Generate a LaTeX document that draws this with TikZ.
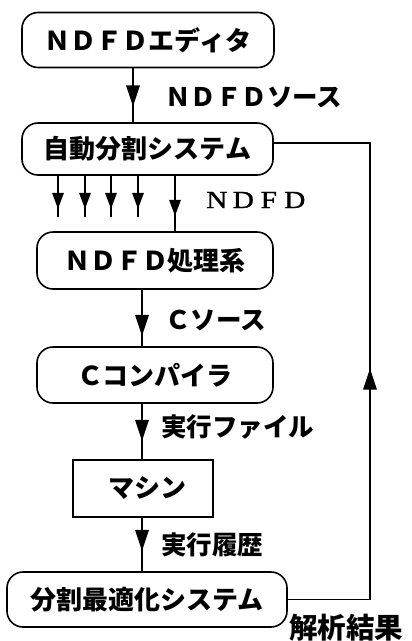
\documentclass[tikz,border=0pt]{standalone}
\usepackage{fontspec}
\newfontfamily\jp{Noto Sans CJK JP}
\newfontfamily\seriflat[FakeStretch=1.2,FakeBold=1.2]{Liberation Serif}
\usetikzlibrary{decorations.markings}
\tikzset{
  box/.style={draw, line width=1.6pt, rounded corners=16pt, inner sep=0pt,
    font=\jp\bfseries\fontsize{26}{30}\selectfont},
  sqbox/.style={draw, line width=1.6pt, inner sep=0pt,
    font=\jp\bfseries\fontsize{26}{30}\selectfont},
  lab/.style={inner sep=0pt, anchor=west, font=\jp\bfseries\fontsize{25.5}{30}\selectfont},
  conn/.style={line width=1.3pt},
  midarrow/.style={postaction={decorate}, decoration={markings,
    mark=at position #1 with {\fill (0pt,0pt) -- (-21pt,7pt) -- (-21pt,-7pt) -- cycle;}}},
  smallarrow/.style={postaction={decorate}, decoration={markings,
    mark=at position #1 with {\fill (0pt,0pt) -- (-16pt,6pt) -- (-16pt,-6pt) -- cycle;}}}
}
\begin{document}
\begin{tikzpicture}[x=1pt,y=-1pt]
\useasboundingbox (0,0) rectangle (412,641);
% boxes
\node[box, minimum width=252pt, minimum height=55pt] (b1) at (148,40) {ＮＤＦＤエディタ\hspace{6pt}};
\node[box, minimum width=251pt, minimum height=52pt] (b2) at (147.5,149) {自動分割システム};
\node[box, minimum width=236pt, minimum height=57pt] (b3) at (155,260.5) {ＮＤＦＤ処理系\hspace{12pt}};
\node[box, minimum width=236pt, minimum height=56pt] (b4) at (155,375) {Ｃコンパイラ\hspace{14pt}};
\node[sqbox, minimum width=140pt, minimum height=57pt] (b5) at (143,488.5) {\hspace{8pt}マシン};
\node[box, minimum width=280pt, minimum height=55pt] (b6) at (147,599.5) {分割最適化システム\hspace{12pt}};
% helper coordinates
\coordinate (ax1) at (133,0);
\coordinate (ax2) at (142,0);
\coordinate (r2) at (370,143);
\coordinate (s1) at (58,217);
\coordinate (s2) at (85,217);
\coordinate (s3) at (111,217);
\coordinate (s4) at (138,217);
\coordinate (s5) at (175,0);
% main arrows
\draw[conn, midarrow=38pt] (b1.south -| ax1) -- (b2.north -| ax1);
\draw[conn, midarrow=46pt] (b3.south -| ax2) -- (b4.north -| ax2);
\draw[conn, midarrow=37pt] (b4.south -| ax2) -- (b5.north -| ax2);
\draw[conn, midarrow=33pt] (b5.south -| ax2) -- (b6.north -| ax2);
% small arrows
\draw[conn, smallarrow=33pt] (b2.south -| s1) -- (s1);
\draw[conn, smallarrow=33pt] (b2.south -| s2) -- (s2);
\draw[conn, smallarrow=33pt] (b2.south -| s3) -- (s3);
\draw[conn, smallarrow=33pt] (b2.south -| s4) -- (s4);
\draw[conn, smallarrow=40pt] (b2.south -| s5) -- (b3.north -| s5);
% feedback loop
\draw[conn, midarrow=313pt] (b6.east) -- (b6.east -| r2) -- (r2) -- (b2.east |- r2);
% labels
\node[lab] (l1) at (165,97) {ＮＤＦＤソース};
\node[inner sep=0pt, anchor=west, font=\seriflat\fontsize{24.5}{28}\selectfont] (l2) at (206,200)
  {\makebox[26.5pt][l]{N}\makebox[28pt][l]{D}\makebox[23.5pt][l]{F}D};
\node[lab] (l3) at (165,320) {Ｃソース};
\node[lab] (l4) at (161,427) {実行ファイル};
\node[lab] (l5) at (161,545) {実行履歴};
\node[inner sep=0pt, anchor=west, font=\jp\bfseries\fontsize{28.5}{32}\selectfont] (l6) at (289,628) {解析結果};
\end{tikzpicture}
\end{document}
